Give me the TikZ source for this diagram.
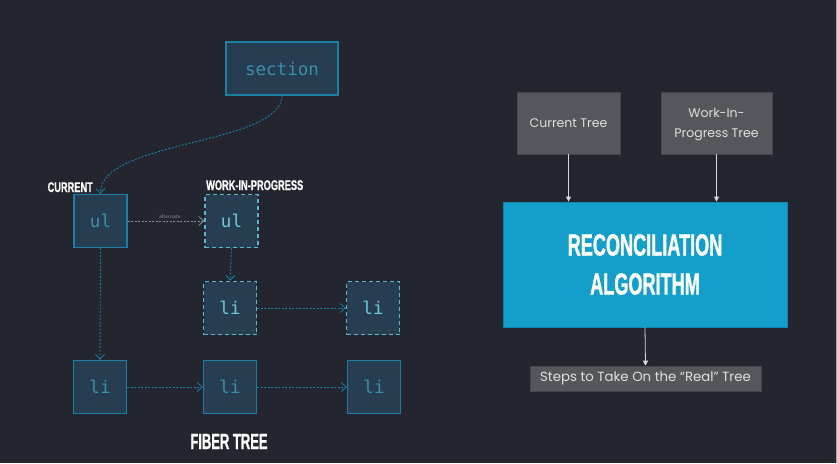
\documentclass[tikz,border=0pt]{standalone}
\usepackage{fontspec}
\usetikzlibrary{arrows.meta}
\newfontfamily\monof{DejaVu Sans Mono}
\newfontfamily\dispA{Liberation Sans}[FakeStretch=0.66,FakeBold=0.6]
\newfontfamily\dispB{Liberation Sans}[FakeStretch=0.59,FakeBold=1]
\newfontfamily\geof{Poppins}
\definecolor{bg}{HTML}{23262E}
\definecolor{boxfill}{HTML}{263D52}
\definecolor{boxline}{HTML}{1A7FA3}
\definecolor{wipline}{HTML}{5BB8C8}
\definecolor{txtC}{HTML}{3D8FA8}
\definecolor{txtW}{HTML}{6CC8D8}
\definecolor{grayarrow}{HTML}{8A8D92}
\definecolor{graybox}{HTML}{54575C}
\definecolor{recfill}{HTML}{139FC9}
\definecolor{recline}{HTML}{0F86AD}
\definecolor{lightarrow}{HTML}{D8D8D8}
\tikzset{
  fbox/.style={draw=boxline, fill=boxfill, line width=1.3pt, minimum width=53pt, minimum height=53pt, inner sep=0pt, font=\monof\fontsize{17.5}{17.5}\selectfont, text=txtC},
  wbox/.style={fbox, draw=wipline, dash pattern=on 4pt off 3pt, text=txtW},
  flink/.style={draw=boxline, line width=0.9pt, dash pattern=on 2pt off 1.5pt, -{Straight Barb[length=5pt,width=9pt,line width=0.8pt]}},
  altlink/.style={flink, draw=grayarrow},
  lbl/.style={text=white, inner sep=0pt, font=\dispA\bfseries\fontsize{14}{14}\selectfont},
  gbox/.style={fill=graybox, draw=graybox!80!black, line width=0.6pt, inner sep=0pt, text=white!88!black, font=\geof\fontsize{12.5}{20}\selectfont, align=center},
  rlink/.style={draw=lightarrow, line width=0.8pt, -{Triangle[length=5pt,width=5pt]}}
}
\begin{document}
\begin{tikzpicture}[x=1pt,y=-1pt]
\fill[bg] (0,0) rectangle (837,463);
\useasboundingbox (0,0) rectangle (837,463);
\draw[white!60!bg, line width=1pt] (836.5,0) -- (836.5,463);

% fiber tree
\node[fbox, minimum width=112pt] (sec) at (282,68.5) {section};
\node[fbox] (ulC) at (100.5,221) {ul};
\node[wbox] (ulW) at (231.5,221) {ul};
\node[wbox] (liW1) at (230,308) {li};
\node[wbox] (liW2) at (373,308) {li};
\node[fbox] (liC1) at (100,387) {li};
\node[fbox] (liC2) at (230,387) {li};
\node[fbox] (liC3) at (374,387) {li};

\node[lbl, anchor=base east] (lcur) at (93,192) {CURRENT};
\node[lbl, anchor=base west] (lwip) at (206,190) {WORK-IN-PROGRESS};
\node[lbl, anchor=base, font=\dispB\bfseries\fontsize{22}{22}\selectfont] (lfib) at (229,449) {FIBER TREE};

\draw[flink] (sec.south) .. controls (282,145) and (100,140) .. (ulC.north);
\draw[altlink] (ulC.east) -- node[above, pos=0.55, inner sep=1.5pt, text=grayarrow, font=\sffamily\fontsize{5.5}{5.5}\selectfont] (alt) {alternate} (ulW.west);
\draw[flink] (ulC.south) -- (liC1.north);
\draw[flink] (ulW.south) -- (liW1.north);
\draw[flink] (liW1.east) -- (liW2.west);
\draw[flink] (liC1.east) -- (liC2.west);
\draw[flink] (liC2.east) -- (liC3.west);

% reconciliation
\node[gbox, minimum width=103pt, minimum height=62pt] (ct) at (568.5,123) {Current Tree};
\node[gbox, minimum width=111pt, minimum height=62pt, text depth=0pt] (wt) at (716.5,123) {\raisebox{0pt}[9pt][0pt]{}Work-In-\\Progress Tree};
\node[fill=recfill, draw=recline, line width=0.8pt, minimum width=284pt, minimum height=125pt, inner sep=0pt, text=white, align=center, font=\dispB\bfseries\fontsize{30.7}{39}\selectfont] (rec) at (645,264.5) {RECONCILIATION\\ALGORITHM};
\node[gbox, minimum width=231pt, minimum height=25pt, font=\geof\fontsize{13.3}{16}\selectfont] (steps) at (645.5,378.5) {Steps to Take On the “Real” Tree};

\draw[rlink] (ct.south) -- (ct.south |- rec.north);
\draw[rlink] (wt.south) -- (wt.south |- rec.north);
\draw[rlink] (rec.south) -- (steps.north);
\end{tikzpicture}
\end{document}
